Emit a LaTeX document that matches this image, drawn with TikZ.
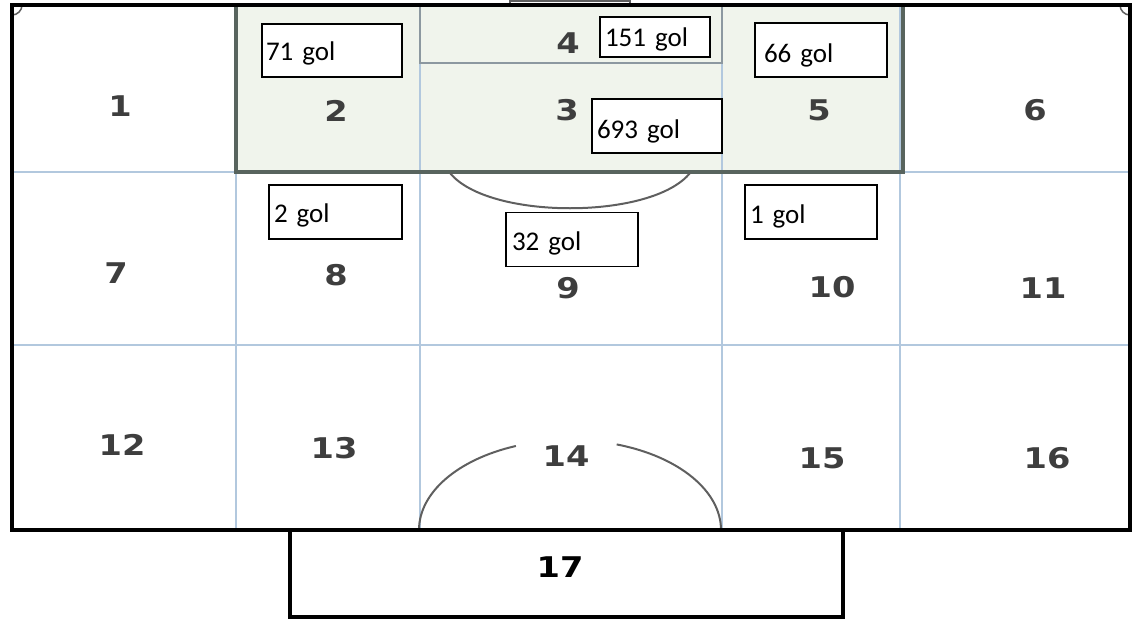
\documentclass[tikz,border=0pt]{standalone}
\usepackage{fontspec}
\newfontfamily\numfont[FakeStretch=1.18]{DejaVu Sans}
\newfontfamily\golfont{Carlito}
\definecolor{gridblue}{RGB}{178,200,222}
\definecolor{penfill}{RGB}{240,244,236}
\definecolor{penline}{RGB}{88,100,94}
\definecolor{goalline}{RGB}{140,152,160}
\definecolor{numgray}{RGB}{62,62,62}
\definecolor{arcgray}{RGB}{95,95,95}
\tikzset{
  num/.style={font=\numfont\bfseries\fontsize{28.5}{30}\selectfont, text=numgray, inner sep=0pt},
  golbox/.style={draw=black, line width=1.4pt, fill=white, font=\golfont\fontsize{27}{29}\selectfont,
    align=left, inner ysep=0pt, anchor=center, text depth=0pt},
  golbase/.style={text height=2*#1},
  gridline/.style={draw=gridblue, line width=2pt},
  pitchedge/.style={draw=black, line width=4pt},
}
\begin{document}
\begin{tikzpicture}[x=1pt,y=-1pt]
\useasboundingbox (0,0) rectangle (1139,626);
% penalty area fill
\fill[penfill] (236,5) rectangle (903,172);
% grid
\draw[gridline] (12,172) -- (1130,172);
\draw[gridline] (12,345) -- (1130,345);
\draw[gridline] (236,5) -- (236,530);
\draw[gridline] (420,5) -- (420,530);
\draw[gridline] (722,5) -- (722,530);
\draw[gridline] (900,5) -- (900,530);
% penalty area border
\draw[draw=penline, line width=3.5pt] (236,5) -- (236,172) -- (903,172) -- (903,5);
% goal area
\draw[draw=goalline, line width=2.5pt] (420,5) -- (420,63) -- (722,63) -- (722,5);
% penalty arc
\draw[draw=arcgray, line width=2pt] (450,173) .. controls (488,220) and (652,220) .. (690,173);
% center arc (split around 14)
\draw[draw=arcgray, line width=2pt] (570,530) ++(180:151 and 90) arc[start angle=180, end angle=249, x radius=151, y radius=90];
\draw[draw=arcgray, line width=2pt] (570,530) ++(288:151 and 90) arc[start angle=288, end angle=360, x radius=151, y radius=90];
% corner marks
\draw[draw=arcgray, line width=1.5pt] (22,5) arc[start angle=0, end angle=90, radius=10];
\draw[draw=arcgray, line width=1.5pt] (1130,15) arc[start angle=90, end angle=180, radius=10];
% goal at top
\draw[draw=arcgray, line width=2pt] (510,5) -- (510,1) -- (630,1) -- (630,5);
% outer pitch
\draw[pitchedge] (12,5) rectangle (1130,530);
% box 17
\draw[draw=black, line width=3.5pt] (290,530) -- (290,617) -- (843,617) -- (843,530);
% numbers
\node[num] (z1) at (120,106) {1};
\node[num] (z2) at (336,111) {2};
\node[num] (z3) at (567,110) {3};
\node[num] (z4) at (568,43.5) {4};
\node[num] (z5) at (819,110) {5};
\node[num] (z6) at (1035,110) {6};
\node[num] (z7) at (116,273) {7};
\node[num] (z8) at (336,275) {8};
\node[num] (z9) at (568,288) {9};
\node[num] (z10) at (832,287) {10};
\node[num] (z11) at (1043,288) {11};
\node[num] (z12) at (122,445) {12};
\node[num] (z13) at (334,448) {13};
\node[num] (z14) at (566,456) {14};
\node[num] (z15) at (822,458) {15};
\node[num] (z16) at (1047,458) {16};
\node[num, text=black] (z17) at (560,567) {17};
% goal boxes
\node[golbox, golbase=9.5pt, inner xsep=4pt, text width=132pt, minimum height=53pt] (g71) at (332,50.5) {71 gol};
\node[golbox, golbase=10pt, inner xsep=5pt, text width=100pt, minimum height=40pt] (g151) at (655,37) {151 gol};
\node[golbox, golbase=13pt, inner xsep=9pt, text width=114pt, minimum height=54pt] (g66) at (821,50) {66 gol};
\node[golbox, golbase=12pt, inner xsep=5pt, text width=120pt, minimum height=54pt] (g693) at (657,126) {693 gol};
\node[golbox, golbase=10pt, inner xsep=5pt, text width=123pt, minimum height=54pt] (g2) at (335.5,212) {2 gol};
\node[golbox, golbase=11pt, inner xsep=5pt, text width=122pt, minimum height=54pt] (g1) at (811,212) {1 gol};
\node[golbox, golbase=10.5pt, inner xsep=6pt, text width=120pt, minimum height=54pt] (g32) at (572,239.5) {32 gol};
\end{tikzpicture}
\end{document}
